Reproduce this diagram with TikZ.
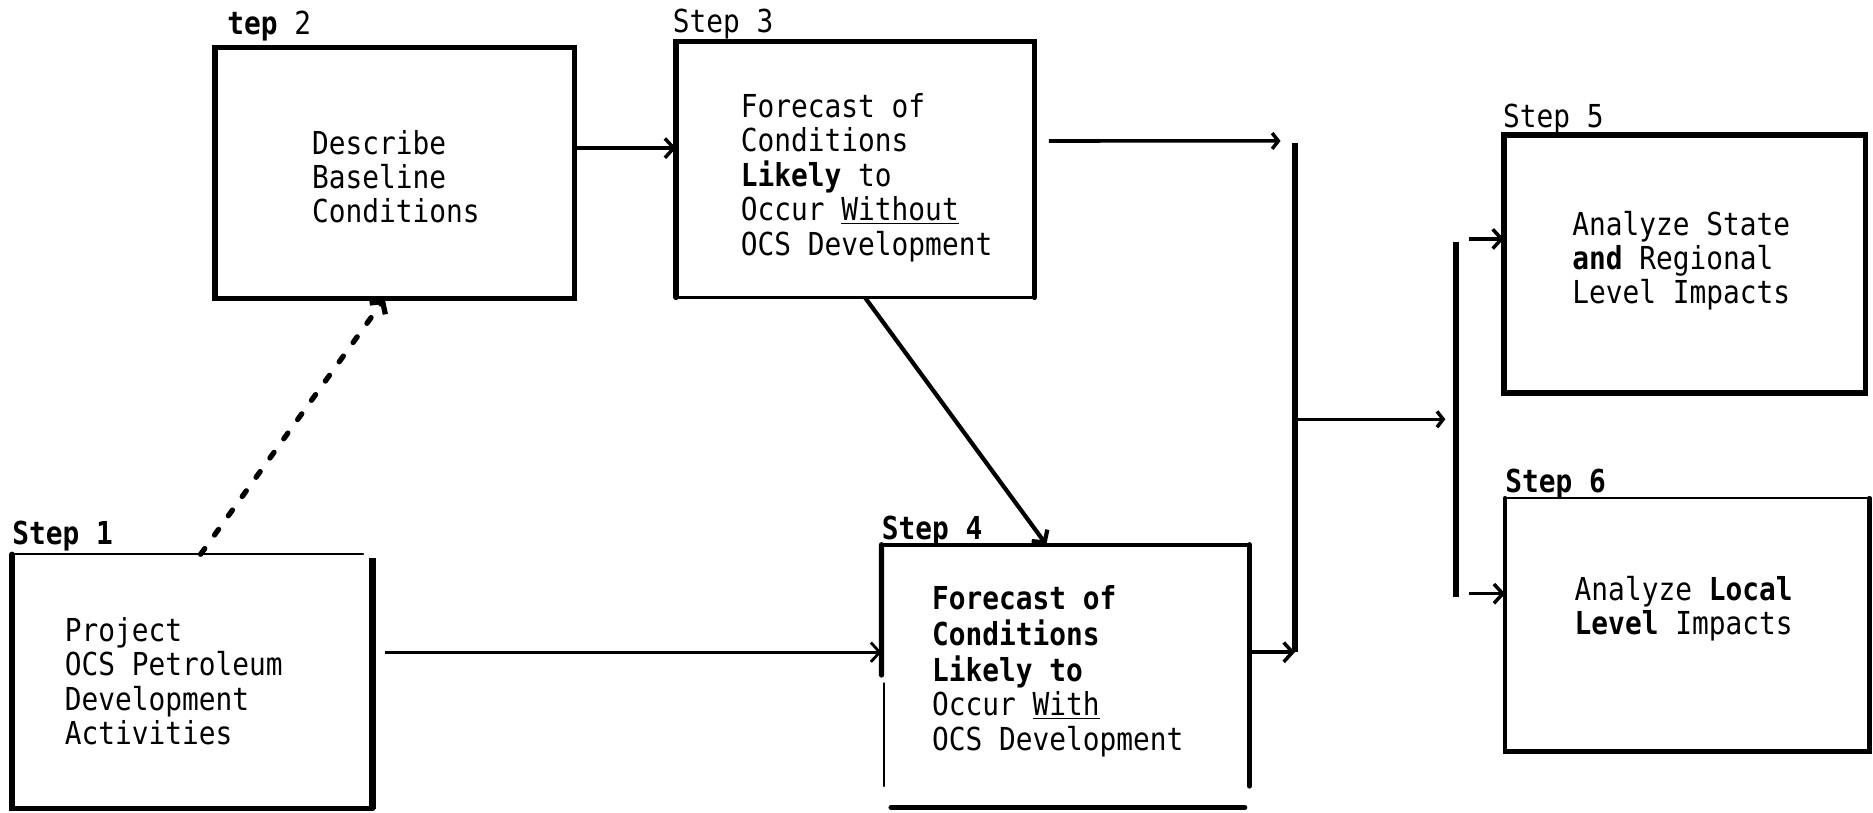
\documentclass[tikz,border=0pt]{standalone}
\usepackage{fontspec}
\newfontfamily\typewr[FakeStretch=0.88]{DejaVu Sans Mono}
\usetikzlibrary{arrows.meta,calc,fit}
\newcommand\bodyfont{\typewr\fontsize{18}{19}\selectfont}
\newcommand\flowlines[1]{\begin{tabular}[t]{@{}l@{}}#1\end{tabular}}
\begin{document}
\begin{tikzpicture}[x=0.02389cm,y=-0.02389cm,
  boxfit/.style={inner sep=0pt,outer sep=0pt},
  edge/.style={line width=3pt,line cap=round},
  thinedge/.style={line width=1.2pt,line cap=round},
  conn/.style={line width=2pt,-{Straight Barb[length=5pt,width=11pt]}},
  hookconn/.style={line width=2pt,-{Straight Barb[length=3.5pt,width=9pt]}},
  rail/.style={line width=3.6pt},
  dashconn/.style={line width=3pt,line cap=round,dash pattern=on 4pt off 9.5pt,
    -{Straight Barb[length=5pt,width=11pt]}},
  lbl/.style={anchor=base west,inner sep=0pt,font=\bodyfont},
  body/.style={anchor=base west,inner sep=0pt,font=\bodyfont}]
\useasboundingbox (0,0) rectangle (1568,680);

% step boxes
\node[boxfit,fit={(10,464)(312,677)}] (s1) {};
\node[boxfit,fit={(180,40)(481,250)}] (s2) {};
\node[boxfit,fit={(566,35)(866,249)}] (s3) {};
\node[boxfit,fit={(738,456)(1046,658)}] (s4) {};
\node[boxfit,fit={(1259,113)(1562,329)}] (s5) {};
\node[boxfit,fit={(1260,417)(1565,629)}] (s6) {};

% outlines
\draw[thinedge] (s1.north west) -- ($(s1.north east)+(-8,0)$);
\draw[edge] (s1.north west) -- (s1.south west) -- (s1.south east);
\draw[line width=3.8pt] ($(s1.north east)+(0,3)$) -- (s1.south east);

\draw[edge] (s2.north west) rectangle (s2.south east);

\draw[edge] (s3.south west) -- (s3.north west) -- (s3.north east) -- (s3.south east);
\draw[line width=2pt] (s3.south west) -- (s3.south east);

\draw[line width=2.4pt,line cap=round] (s4.north west) -- (s4.north east);
\draw[edge] (s4.north west) -- ($(s4.north west)!0.54!(s4.south west)$);
\draw[thinedge] ($(s4.south west)+(2,-86)$) -- ($(s4.south west)+(2,0)$);
\draw[edge] (s4.north east) -- (s4.south east);
\draw[edge] ($(s4.south west)+(8,18)$) -- ($(s4.south east)+(-4,18)$);

\draw[edge] (s5.north west) rectangle (s5.south east);

\draw[line width=1.5pt] (s6.north west) -- (s6.north east);
\draw[line width=2.5pt,line cap=round] (s6.north east) -- (s6.south east) -- (s6.south west) -- (s6.north west);

% step labels
\node[lbl] (l1) at (10,456) {\bfseries Step 1};
\node[lbl] (l2) at (190,29) {{\bfseries tep} 2};
\node[lbl] (l3) at (563,27) {Step 3};
\node[lbl] (l4) at (738,452) {\bfseries Step 4};
\node[lbl] (l5) at (1258,107) {Step 5};
\node[lbl] (l6) at (1260,412) {\bfseries Step 6};

% box texts
\node[body] (t1) at (54,537) {\renewcommand\arraystretch{1.03}\flowlines{Project\\OCS Petroleum\\Development\\Activities}};
\node[body] (t2) at (261,129) {\flowlines{Describe\\Baseline\\Conditions}};
\node[body] (t3) at (620,98) {\flowlines{Forecast of\\Conditions\\\textbf{Likely} to\\Occur \underline{Without}\\OCS Development}};
\node[body] (t4) at (780,510) {\renewcommand\arraystretch{1.03}\flowlines{\textbf{Forecast of}\\\textbf{Conditions}\\\textbf{Likely to}\\Occur \underline{With}\\OCS Development}};
\node[body] (t5) at (1316,197) {\flowlines{Analyze State\\\textbf{and} Regional\\Level Impacts}};
\node[body] (t6) at (1318,503) {\flowlines{Analyze \textbf{Local}\\\textbf{Level} Impacts}};

% collecting rails and junction points
\coordinate (r1top) at (1084,120);
\coordinate (r1bot) at (1084,546);
\coordinate (r1mid) at (1084,351);
\coordinate (r2in) at (1210,351);
\coordinate (r2top) at (1219,203);
\coordinate (r2bot) at (1219,500);
\coordinate (to5) at (1230,200);
\coordinate (to6) at (1230,497);
\coordinate (r1in) at (1072,118);

\draw[rail] (r1top) -- (r1bot);
\draw[rail] (r2top) -- (r2bot);

% connectors
\draw[conn] ($(s2.north east)!0.4!(s2.south east)$) coordinate (a23) -- (a23 -| s3.west);
\draw[hookconn] ($(s3.north east)!0.388!(s3.south east)+(12,0)$) -- (r1in);
\draw[conn] (s4.east |- r1bot) -- (r1bot);
\draw[hookconn] (r1mid) -- (r2in);
\draw[conn] (to5) -- (to5 -| s5.west);
\draw[conn] (to6) -- (to6 -| s6.west);
\draw[conn,line width=2.4pt] ($(s3.south west)!0.527!(s3.south east)$) -- ($(s4.north west)!0.448!(s4.north east)$);
\draw[conn,line width=1.6pt] ($(s1.north east)!0.385!(s1.south east)+(10,0)$) coordinate (a14) -- (a14 -| s4.west);
\draw[dashconn] ($(s1.north west)!0.523!(s1.north east)$) -- ($(s2.south west)!0.472!(s2.south east)$);
\end{tikzpicture}
\end{document}
